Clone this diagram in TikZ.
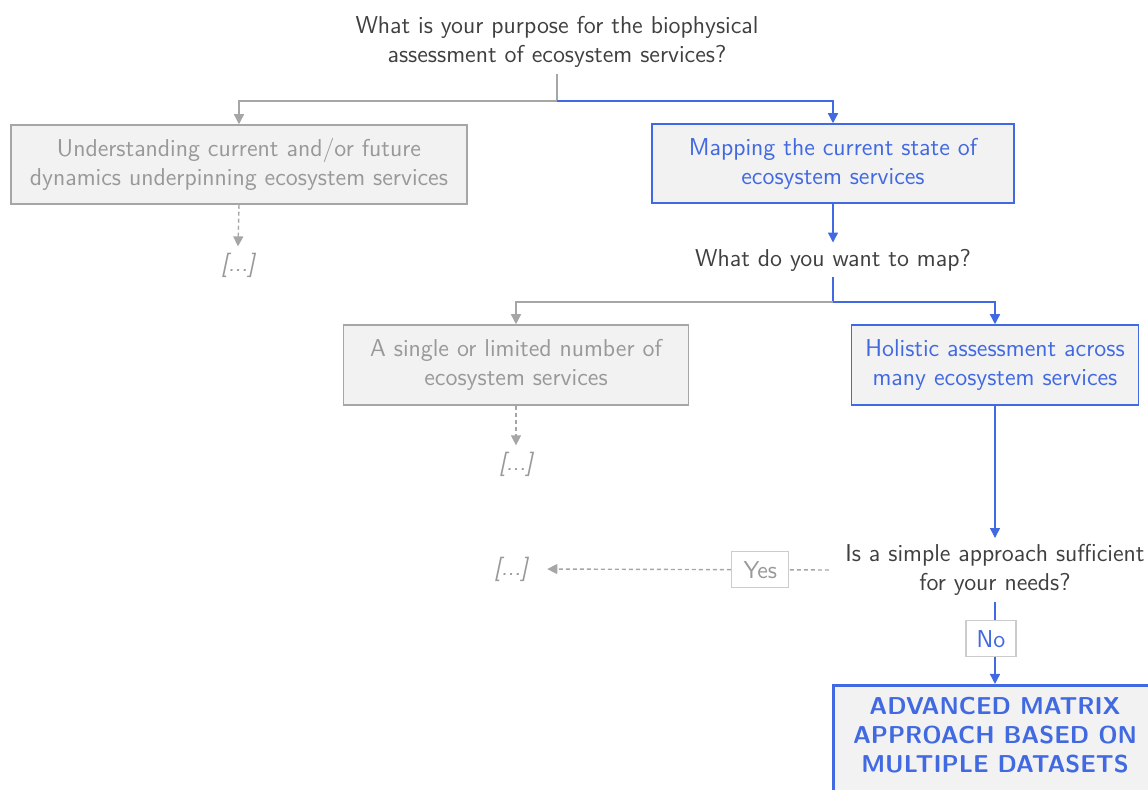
\documentclass[tikz,border=0pt]{standalone}
\usepackage{xcolor}
\definecolor{esblue}{HTML}{4169E1}
\definecolor{esgrey}{HTML}{A6A6A6}
\definecolor{esgreytext}{HTML}{999999}
\definecolor{boxfill}{HTML}{F2F2F2}
\definecolor{darktext}{HTML}{404040}
\definecolor{tagline}{HTML}{CCCCCC}
\usepackage{tikz}
\usetikzlibrary{positioning, arrows.meta}
\tikzset{
    greybox/.style = {draw=esgrey, fill=boxfill, text=esgreytext,
                      line width=0.75pt, align=center, inner sep=0pt},
    bluebox/.style = {draw=esblue, fill=boxfill, text=esblue,
                      line width=0.75pt, align=center, inner sep=0pt},
    finalbox/.style = {draw=esblue, fill=boxfill, line width=1.5pt},
    finaltext/.style = {text=esblue, align=center, font=\sffamily\bfseries\fontsize{12.2}{14.5}\selectfont},
    question/.style = {text=darktext, align=center, inner sep=3pt},
    elided/.style = {text=esgreytext, font=\sffamily\itshape\fontsize{12.2}{14.5}\selectfont, inner sep=3pt},
    answer/.style = {draw=tagline, fill=white, solid, line width=0.6pt,
                     minimum width=28.5pt, minimum height=18pt, inner sep=0pt},
    greyline/.style = {draw=esgrey, line width=0.7pt},
    blueline/.style = {draw=esblue, line width=0.7pt},
    greyarrow/.style = {-{Triangle[length=5pt,width=5pt]}, greyline},
    bluearrow/.style = {-{Triangle[length=5pt,width=5pt]}, blueline},
    dasharrow/.style = {-{Triangle[length=5pt,width=5pt]}, greyline, dash pattern=on 2pt off 1.5pt},
}

\begin{document}
\begin{tikzpicture}[x=0.5pt, y=-0.5pt, font=\sffamily\fontsize{12.2}{14.5}\selectfont]
    \useasboundingbox (0,0) rectangle (1148,790);
    \clip (0,0) rectangle (1148,790);

    % first decision
    \node[question] (purpose) at (557,42)
        {What is your purpose for the biophysical\\assessment of ecosystem services?};
    \node[greybox, minimum width=228pt, minimum height=39.5pt] (understand) at (239,164.5)
        {Understanding current and/or future\\dynamics underpinning ecosystem services};
    \node[bluebox, minimum width=181pt, minimum height=39.5pt] (mapping) at (833,163.5)
        {Mapping the current state of\\ecosystem services};
    \node[elided] (etcA) at (238,265) {[...]};
    \coordinate (forkA) at (557,101);
    \draw[greyline] (purpose.south) -- (forkA);
    \draw[greyarrow] (forkA) -| (understand.north);
    \draw[bluearrow] (forkA) -| (mapping.north);
    \draw[dasharrow] (understand.south) -- (etcA.north);

    % second decision
    \node[question] (wantmap) at (833,260) {What do you want to map?};
    \node[greybox, minimum width=172.5pt, minimum height=40pt] (single) at (516,365)
        {A single or limited number of\\ecosystem services};
    \node[bluebox, minimum width=143.5pt, minimum height=40pt] (holistic) at (995,365)
        {Holistic assessment across\\many ecosystem services};
    \node[elided] (etcB) at (516,464) {[...]};
    \coordinate (forkB) at (833,302);
    \draw[bluearrow] (mapping.south) -- (wantmap.north);
    \draw[blueline] (wantmap.south) -- (forkB);
    \draw[greyarrow] (forkB) -| (single.north);
    \draw[bluearrow] (forkB) -| (holistic.north);
    \draw[dasharrow] (single.south) -- (etcB.north);

    % third decision
    \node[question] (simple) at (995,570)
        {Is a simple approach sufficient\\for your needs?};
    \node[elided] (etcC) at (511,569) {[...]};
    \node[finalbox, minimum width=162pt, minimum height=70pt, anchor=north] (final) at (995,684) {};
    \node[finaltext, below=3pt of final.north] (finallabel)
        {ADVANCED MATRIX\\APPROACH BASED ON\\MULTIPLE DATASETS};
    \draw[bluearrow] (holistic.south) -- (simple.north);
    \draw[dasharrow, shorten >=6.5pt] ([xshift=-5pt]simple.west) -- node[answer, pos=0.25, xshift=2.5pt, text=esgreytext] (yes) {Yes} (etcC.east);
    \draw[bluearrow] (simple.south) -- node[answer, minimum width=25pt, pos=0.45, xshift=-2pt, text=esblue] (no) {No} (final.north);
\end{tikzpicture}
\end{document}
